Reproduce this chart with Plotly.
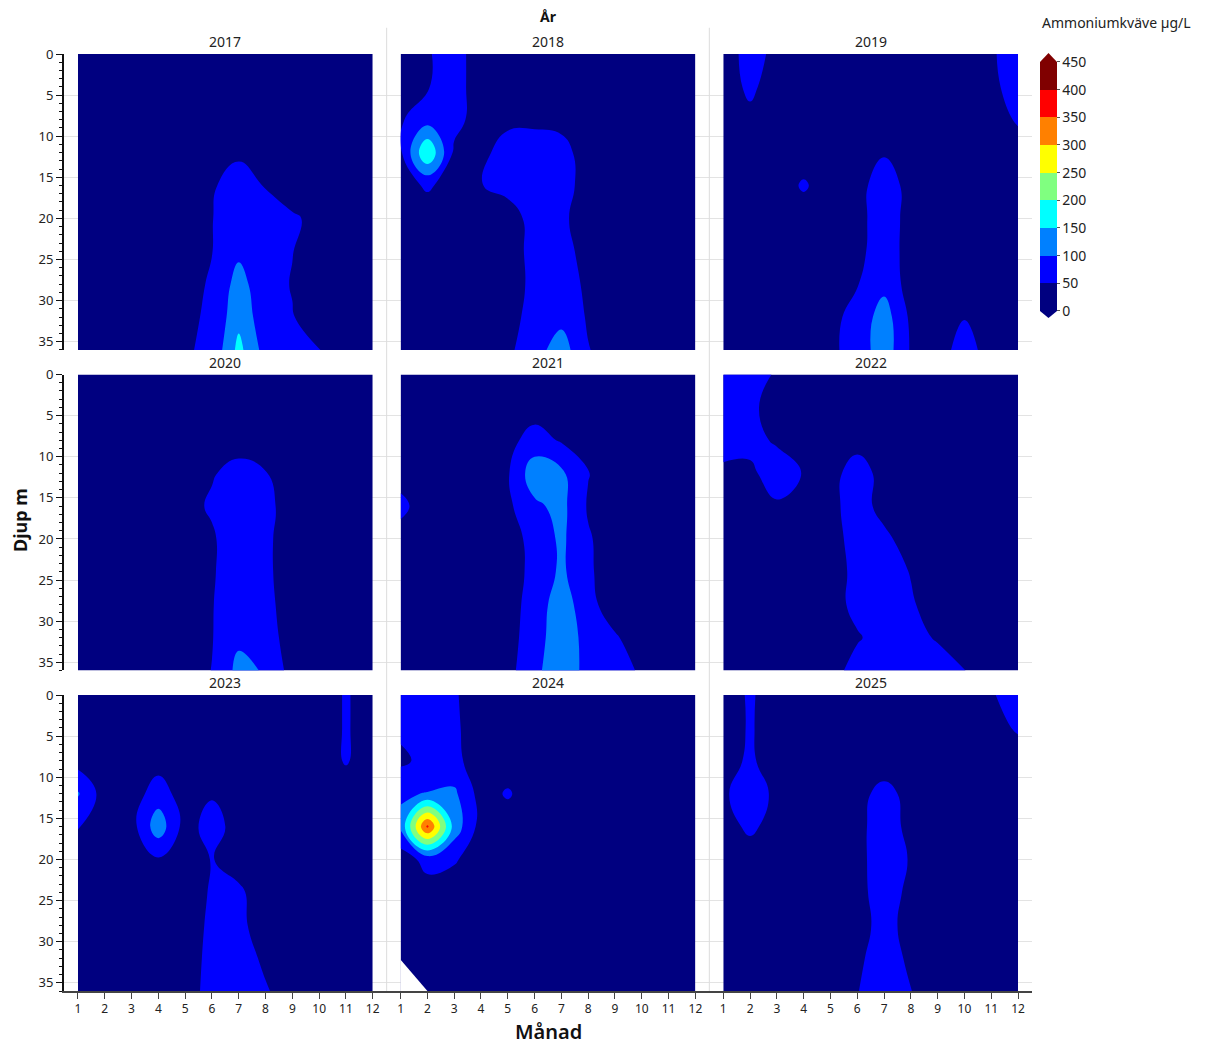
import plotly.graph_objects as go
from plotly.subplots import make_subplots

# ── data ────────────────────────────────────────────────────
years = [2017, 2018, 2019, 2020, 2021, 2022, 2023, 2024, 2025]
months = list(range(1, 13))
depths = [0, 4, 8, 12, 16, 20, 24, 28, 32, 36]
depth_ticks = [0, 5, 10, 15, 20, 25, 30, 35]
cbar_ticks = [0, 50, 100, 150, 200, 250, 300, 350, 400, 450]

# ammoniumkväve µg/L, en rad per djup (0..36 m), en kolumn per månad (1..12)
amm_2017 = [
    [25, 25, 25, 25, 25, 25, 25, 25, 25, 25, 25, 25],
    [25, 25, 25, 25, 25, 25, 25, 25, 25, 25, 25, 25],
    [25, 25, 25, 25, 25, 25, 25, 25, 25, 25, 25, 25],
    [25, 25, 25, 25, 25, 28, 35, 30, 25, 25, 25, 25],
    [25, 25, 25, 25, 28, 40, 90, 46, 30, 25, 25, 25],
    [25, 25, 25, 25, 30, 48, 90, 75, 55, 40, 25, 25],
    [25, 25, 25, 25, 32, 49, 90, 70, 51, 30, 25, 25],
    [25, 25, 25, 25, 35, 55, 120, 65, 48, 30, 25, 25],
    [25, 25, 25, 25, 40, 58, 135, 70, 52, 30, 25, 25],
    [25, 25, 25, 25, 45, 60, 165, 80, 65, 51, 30, 25],
]
amm_2018 = [
    [25, 46, 70, 25, 25, 25, 25, 25, 25, 25, 25, 25],
    [25, 47, 70, 25, 25, 25, 25, 25, 25, 25, 25, 25],
    [45, 80, 68, 25, 40, 40, 38, 25, 25, 25, 25, 25],
    [42, 200, 40, 38, 70, 75, 65, 30, 25, 25, 25, 25],
    [35, 55, 35, 49, 60, 70, 65, 35, 25, 25, 25, 25],
    [25, 30, 25, 30, 35, 62, 58, 30, 25, 25, 25, 25],
    [25, 25, 25, 25, 35, 60, 70, 30, 25, 25, 25, 25],
    [25, 25, 25, 25, 35, 58, 75, 40, 25, 25, 25, 25],
    [25, 25, 25, 25, 38, 62, 85, 45, 25, 25, 25, 25],
    [25, 25, 25, 25, 40, 80, 125, 52, 30, 25, 25, 25],
]
amm_2019 = [
    [30, 65, 40, 25, 25, 25, 25, 25, 25, 25, 45, 70],
    [30, 58, 30, 25, 25, 25, 25, 25, 25, 25, 42, 65],
    [25, 40, 25, 25, 25, 25, 25, 25, 25, 25, 30, 55],
    [25, 25, 25, 25, 25, 25, 45, 25, 25, 25, 25, 30],
    [25, 25, 25, 56, 25, 30, 80, 30, 25, 25, 25, 25],
    [25, 25, 25, 25, 25, 32, 80, 30, 25, 25, 25, 25],
    [25, 25, 25, 25, 25, 35, 80, 28, 25, 25, 25, 25],
    [25, 25, 25, 25, 30, 48, 85, 30, 25, 25, 25, 25],
    [25, 25, 25, 25, 38, 65, 125, 40, 25, 48, 25, 25],
    [25, 25, 25, 25, 40, 70, 130, 45, 30, 70, 30, 25],
]
amm_2020 = [
    [25, 25, 25, 25, 25, 25, 25, 25, 25, 25, 25, 25],
    [25, 25, 25, 25, 25, 25, 25, 25, 25, 25, 25, 25],
    [25, 25, 25, 25, 25, 25, 25, 25, 25, 25, 25, 25],
    [25, 25, 25, 25, 25, 45, 70, 52, 25, 25, 25, 25],
    [25, 25, 25, 25, 30, 58, 90, 62, 30, 25, 25, 25],
    [25, 25, 25, 25, 25, 42, 90, 60, 25, 25, 25, 25],
    [25, 25, 25, 25, 25, 43, 90, 60, 25, 25, 25, 25],
    [25, 25, 25, 25, 25, 47, 90, 65, 25, 25, 25, 25],
    [25, 25, 25, 25, 25, 48, 90, 70, 30, 25, 25, 25],
    [25, 25, 25, 25, 30, 51, 115, 95, 30, 25, 25, 25],
]
amm_2021 = [
    [25, 25, 25, 25, 25, 25, 25, 25, 25, 25, 25, 25],
    [25, 25, 25, 25, 25, 28, 25, 25, 25, 25, 25, 25],
    [25, 25, 25, 25, 35, 70, 45, 25, 25, 25, 25, 25],
    [35, 25, 25, 25, 45, 130, 110, 52, 25, 25, 25, 25],
    [60, 30, 25, 25, 40, 90, 115, 45, 25, 25, 25, 25],
    [35, 25, 25, 25, 30, 65, 110, 55, 25, 25, 25, 25],
    [25, 25, 25, 25, 30, 62, 110, 57, 25, 25, 25, 25],
    [25, 25, 25, 25, 30, 70, 130, 65, 25, 25, 25, 25],
    [25, 25, 25, 25, 32, 75, 135, 80, 55, 25, 25, 25],
    [25, 25, 25, 25, 35, 85, 140, 80, 65, 45, 25, 25],
]
amm_2022 = [
    [75, 70, 45, 25, 25, 25, 25, 25, 25, 25, 25, 25],
    [70, 60, 30, 25, 25, 25, 25, 25, 25, 25, 25, 25],
    [60, 62, 45, 25, 25, 35, 25, 25, 25, 25, 25, 25],
    [45, 42, 70, 48, 35, 70, 35, 25, 25, 25, 25, 25],
    [30, 30, 45, 30, 38, 70, 35, 25, 25, 25, 25, 25],
    [25, 25, 25, 25, 30, 70, 60, 30, 25, 25, 25, 25],
    [25, 25, 25, 25, 25, 65, 70, 48, 25, 25, 25, 25],
    [25, 25, 25, 25, 28, 65, 70, 55, 30, 25, 25, 25],
    [25, 25, 25, 25, 28, 45, 70, 60, 47, 25, 25, 25],
    [25, 25, 25, 25, 30, 70, 85, 80, 65, 51, 25, 25],
]
amm_2023 = [
    [25, 25, 25, 25, 25, 25, 25, 25, 25, 20, 55, 25],
    [25, 25, 25, 25, 25, 25, 25, 25, 25, 20, 55, 25],
    [30, 25, 25, 30, 25, 25, 25, 25, 25, 25, 54, 25],
    [105, 25, 25, 75, 25, 45, 25, 25, 25, 25, 25, 25],
    [52, 25, 30, 130, 30, 70, 30, 25, 25, 25, 25, 25],
    [30, 25, 25, 45, 25, 52, 30, 25, 25, 25, 25, 25],
    [25, 25, 25, 25, 25, 55, 58, 25, 25, 25, 25, 25],
    [25, 25, 25, 25, 25, 60, 60, 30, 25, 25, 25, 25],
    [25, 25, 25, 25, 25, 65, 75, 40, 25, 25, 25, 25],
    [25, 25, 25, 25, 25, 70, 80, 55, 25, 25, 25, 25],
]
amm_2024 = [
    [60, 65, 55, 25, 25, 25, 25, 25, 25, 25, 25, 25],
    [60, 62, 58, 25, 25, 25, 25, 25, 25, 25, 25, 25],
    [40, 65, 60, 30, 25, 25, 25, 25, 25, 25, 25, 25],
    [95, 102, 110, 30, 55, 25, 25, 25, 25, 25, 25, 25],
    [110, 360, 130, 30, 25, 25, 25, 25, 25, 25, 25, 25],
    [20, 70, 55, 25, 25, 25, 25, 25, 25, 25, 25, 25],
    [25, 25, 25, 25, 25, 25, 25, 25, 25, 25, 25, 25],
    [25, 25, 25, 25, 25, 25, 25, 25, 25, 25, 25, 25],
    [25, 25, 25, 25, 25, 25, 25, 25, 25, 25, 25, 25],
    [25, 25, 25, 25, 25, 25, 25, 25, 25, 25, 25, 25],
]
amm_2025 = [
    [30, 55, 30, 25, 25, 25, 25, 25, 25, 25, 48, 60],
    [25, 55, 25, 25, 25, 25, 25, 25, 25, 25, 35, 55],
    [35, 56, 30, 25, 25, 25, 25, 25, 25, 25, 25, 30],
    [40, 85, 35, 25, 25, 35, 65, 35, 25, 25, 25, 25],
    [30, 60, 30, 25, 25, 30, 85, 30, 25, 25, 25, 25],
    [25, 25, 25, 25, 25, 30, 85, 45, 25, 25, 25, 25],
    [25, 25, 25, 25, 25, 30, 80, 35, 25, 25, 25, 25],
    [25, 25, 25, 25, 25, 28, 70, 30, 25, 25, 25, 25],
    [25, 25, 25, 25, 25, 40, 75, 40, 25, 25, 25, 25],
    [25, 25, 25, 25, 25, 48, 80, 51, 25, 25, 25, 25],
]

ammonium = {
    2017: amm_2017, 2018: amm_2018, 2019: amm_2019,
    2020: amm_2020, 2021: amm_2021, 2022: amm_2022,
    2023: amm_2023, 2024: amm_2024, 2025: amm_2025,
}

# område utan data (2024, botten i januari)
nodata_2024_month = [1, 1, 2, 1]
nodata_2024_depth = [32.2, 36, 36, 32.2]

# ── style ───────────────────────────────────────────────────
FONT = "Segoe UI, Noto Sans, Open Sans, sans-serif"
BAND_COLORS = [
    "#000080", "#0000ff", "#0080ff", "#00ffff", "#80ff80",
    "#ffff00", "#ff8000", "#ff0000", "#800000",
]
n = len(BAND_COLORS)
colorscale = []
for i, c in enumerate(BAND_COLORS):
    colorscale.append([i / n, c])
    colorscale.append([(i + 1) / n, c])

fig = make_subplots(
    rows=3, cols=3,
    horizontal_spacing=0.0,
    vertical_spacing=0.0262,
    subplot_titles=[str(y) for y in years],
)

for k, year in enumerate(years):
    r, c = k // 3 + 1, k % 3 + 1
    fig.add_trace(
        go.Contour(
            x=months,
            y=depths,
            z=ammonium[year],
            colorscale=colorscale,
            autocontour=False,
            contours=dict(start=50, end=400, size=50, coloring="fill", showlines=False),
            line=dict(width=0, smoothing=1.3),
            showscale=False,
            name=str(year),
            hovertemplate="Månad %{x}<br>Djup %{y} m<br>%{z} µg/L",
        ),
        row=r, col=c,
    )

fig.add_trace(
    go.Scatter(
        x=nodata_2024_month, y=nodata_2024_depth,
        mode="lines", fill="toself", fillcolor="white",
        line=dict(width=0, color="white"), hoverinfo="skip", showlegend=False,
    ),
    row=3, col=2,
)

# färgskala 0–450 i steg om 50
fig.add_trace(
    go.Scatter(
        x=[None, None], y=[None, None], mode="markers",
        marker=dict(
            color=[cbar_ticks[0], cbar_ticks[-1]], cmin=cbar_ticks[0], cmax=cbar_ticks[-1],
            colorscale=colorscale, showscale=True, size=0,
            colorbar=dict(
                x=1.008, xanchor="left", xpad=0,
                y=0.8586, yanchor="middle", ypad=0,
                lenmode="pixels", len=249,
                thicknessmode="pixels", thickness=17,
                outlinewidth=0,
                tickvals=cbar_ticks,
                ticks="outside", ticklen=3, tickcolor="#555",
                tickfont=dict(family=FONT, size=14, color="#222"),
            ),
        ),
        hoverinfo="skip", showlegend=False,
    ),
    row=1, col=1,
)

for r in (1, 2, 3):
    for c in (1, 2, 3):
        fig.update_xaxes(
            range=[0.48, 12.52], tickvals=months, showgrid=False, zeroline=False,
            showline=(r == 3), linecolor="#444", linewidth=1.5,
            ticks="outside" if r == 3 else "", ticklen=6, tickcolor="#444",
            showticklabels=(r == 3),
            tickfont=dict(family=FONT, size=12, color="#222"),
            row=r, col=c,
        )
        fig.update_yaxes(
            range=[36, 0], tickvals=depth_ticks, zeroline=False,
            showgrid=True, gridcolor="#e3e3e3", gridwidth=1,
            showline=(c == 1), linecolor="#111", linewidth=2,
            ticks="outside" if c == 1 else "", ticklen=6, tickcolor="#111",
            minor=dict(dtick=1, ticks="outside" if c == 1 else "", ticklen=3,
                       tickcolor="#111", showgrid=False),
            showticklabels=(c == 1),
            tickfont=dict(family=FONT, size=13, color="#222"),
            row=r, col=c,
        )

# paneltitlar (år)
for ann in fig.layout.annotations:
    ann.font = dict(family=FONT, size=14, color="#222")
    ann.yshift = 1

# avgränsning mellan kolumnerna
for xp in (1 / 3, 2 / 3):
    fig.add_shape(type="line", xref="paper", yref="paper", x0=xp, x1=xp,
                  y0=0, y1=1.028, line=dict(color="#dcdcdc", width=1))

# pilspetsar på färgskalan
fig.add_shape(type="path", xref="paper", yref="paper", layer="above",
              path="M 1.00826 0.99146 L 1.01705 1.00107 L 1.02583 0.99146 Z",
              fillcolor="#800000", line=dict(width=0))
fig.add_shape(type="path", xref="paper", yref="paper", layer="above",
              path="M 1.00826 0.72572 L 1.01705 0.71825 L 1.02583 0.72572 Z",
              fillcolor="#000080", line=dict(width=0))

fig.add_annotation(text="<b>År</b>", xref="paper", yref="paper", x=0.5, y=1.0395,
                   xanchor="center", yanchor="middle", showarrow=False,
                   font=dict(family=FONT, size=14, color="#111"))
fig.add_annotation(text="Månad", xref="paper", yref="paper", x=0.5, y=-0.0427,
                   xanchor="center", yanchor="middle", showarrow=False,
                   font=dict(family=FONT, size=20, color="#111", weight=600))
fig.add_annotation(text="<b>Djup m</b>", xref="paper", yref="paper", x=-0.0455, y=0.5027,
                   xanchor="center", yanchor="middle", textangle=-90, showarrow=False,
                   font=dict(family=FONT, size=18, color="#111"))
fig.add_annotation(text="Ammoniumkväve µg/L", xref="paper", yref="paper",
                   x=1.087, y=1.0331, xanchor="center", yanchor="middle", showarrow=False,
                   font=dict(family=FONT, size=14, color="#222"))

fig.update_layout(
    width=1205, height=1046,
    margin=dict(l=64, r=173, t=54, b=55, autoexpand=False),
    paper_bgcolor="white", plot_bgcolor="white",
    font=dict(family=FONT),
    showlegend=False,
)

fig.write_html(
    "out.html",
    config={"displayModeBar": False},
    post_script="document.body.style.margin = '0px';",
)
